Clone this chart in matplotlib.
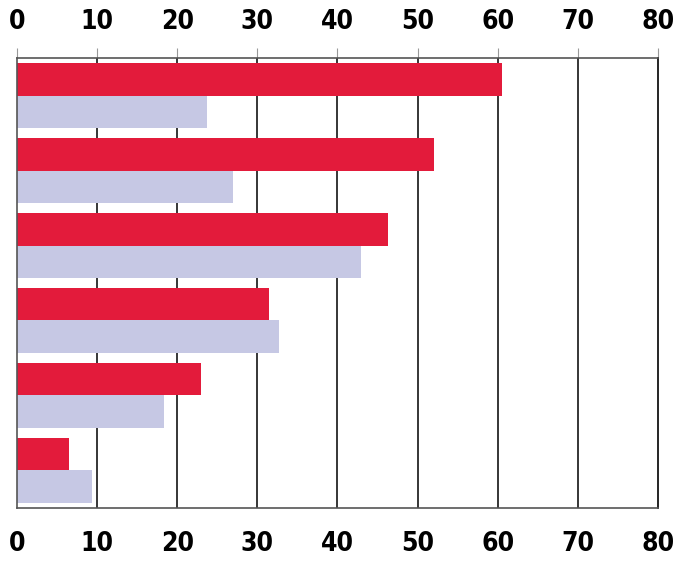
import numpy as np
import matplotlib.pyplot as plt
from matplotlib import font_manager

# values
groups = ['1', '2', '3', '4', '5', '6']
red_vals = [60.5, 52.1, 46.3, 31.5, 23.0, 6.5]
lav_vals = [23.7, 26.9, 42.9, 32.7, 18.4, 9.4]
ticks = [0, 10, 20, 30, 40, 50, 60, 70, 80]

red = '#E31B3B'
lav = '#C6C8E4'

# pick a narrow bold face if one is around
names = set(f.name for f in font_manager.fontManager.ttflist)
cond = [f for f in font_manager.fontManager.ttflist
        if f.name == 'DejaVu Sans' and 'ondensed' in f.fname and 'Bold' in f.fname
        and 'Oblique' not in f.fname]
if 'Liberation Sans Narrow' in names:
    lab_font = font_manager.FontProperties(family='Liberation Sans Narrow', weight='bold', size=19)
elif cond:
    lab_font = font_manager.FontProperties(fname=cond[0].fname, size=19)
else:
    lab_font = font_manager.FontProperties(family='DejaVu Sans', weight='bold', size=17)

fig = plt.figure(figsize=(6.81, 5.66), dpi=100)
ax = fig.add_axes([0.025, 0.1025, 0.941, 0.795])

y = np.arange(len(groups))
h = 0.433
ax.barh(y - h / 2, red_vals, height=h, color=red, zorder=2)
ax.barh(y + h / 2, lav_vals, height=h, color=lav, zorder=2)

ax.set_xlim(0, 80)
ax.set_ylim(len(groups) - 0.5, -0.5)
ax.set_yticks([])

ax.set_axisbelow(True)
for t in ticks[1:-1]:
    ax.axvline(t, color='black', lw=1.1, zorder=1)

ax.set_xticks(ticks)
ax.set_xticklabels([str(t) for t in ticks])
ax.tick_params(axis='x', which='both', top=True, bottom=False,
               labeltop=True, labelbottom=True, direction='out',
               length=7, width=0.8, color='#999999', pad=9.5)
for t in ax.xaxis.get_major_ticks():
    t.label1.set_fontproperties(lab_font)
    t.label2.set_fontproperties(lab_font)

for s in ['top', 'bottom', 'left']:
    ax.spines[s].set_color('#555555')
    ax.spines[s].set_linewidth(1.2)
ax.spines['right'].set_color('black')
ax.spines['right'].set_linewidth(1.2)

fig.savefig('out.png', dpi=100)
